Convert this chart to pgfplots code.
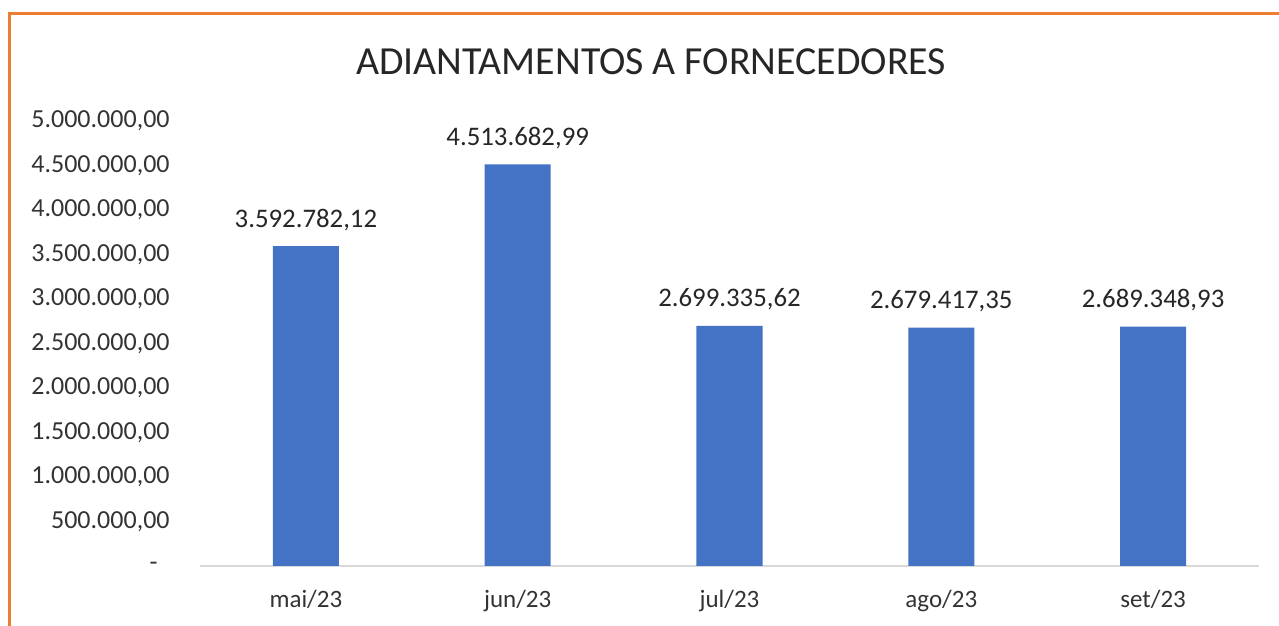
\documentclass[border=0pt]{standalone}
\usepackage{fontspec}
\setmainfont{Carlito}
\usepackage{pgfplots}
\usepackage{pgfplotstable}
\pgfplotsset{compat=1.18}
\definecolor{barblue}{HTML}{4472C4}
\definecolor{frameorange}{HTML}{ED7D31}
\definecolor{axisgrey}{HTML}{D9D9D9}

\pgfplotstableread{
x y label
0 3592782.12 3.592.782,12
1 4513682.99 4.513.682,99
2 2699335.62 2.699.335,62
3 2679417.35 2.679.417,35
4 2689348.93 2.689.348,93
}\adiant

\begin{document}
\begin{tikzpicture}
\begin{axis}[
    at={(0pt,0pt)}, anchor=south west,
    scale only axis,
    width=529.5pt, height=222.5pt,
    ybar, bar width=33pt,
    xmin=-0.5, xmax=4.5,
    ymin=0, ymax=5000000,
    scaled y ticks=false,
    axis x line*=bottom, axis y line*=left,
    x axis line style={-, draw=axisgrey, line width=1pt},
    y axis line style={draw=none},
    major tick length=0pt,
    xtick={0,1,2,3,4},
    xticklabels={mai/23, jun/23, jul/23, ago/23, set/23},
    ytick={0,500000,1000000,1500000,2000000,2500000,3000000,3500000,4000000,4500000,5000000},
    yticklabels={{-\kern6pt\null}, {500.000,00}, {1.000.000,00}, {1.500.000,00}, {2.000.000,00}, {2.500.000,00}, {3.000.000,00}, {3.500.000,00}, {4.000.000,00}, {4.500.000,00}, {5.000.000,00}},
    yticklabel style={anchor=east, inner sep=0pt, xshift=-15pt, font=\fontsize{13}{15}\selectfont, text=black!80},
    xticklabel style={anchor=base, inner sep=0pt, yshift=-20.5pt, font=\fontsize{12.5}{14}\selectfont, text=black!80},
    title={ADIANTAMENTOS A FORNECEDORES},
    title style={at={(0.426,1.106)}, anchor=center, font=\fontsize{19.9}{23}\selectfont, text=black!85},
    point meta=explicit symbolic,
    nodes near coords={\pgfplotspointmeta},
    every node near coord/.append style={anchor=base, inner sep=0pt, yshift=9.5pt, font=\fontsize{13.4}{15}\selectfont, text=black!85},
]
\addplot[fill=barblue, draw=none] table[x=x, y=y, meta=label] {\adiant};
\end{axis}
\draw[frameorange, line width=1.5pt] (-95pt,-40pt) -- (-95pt,276pt) -- (560pt,276pt);
\pgfresetboundingbox
\useasboundingbox (-100pt,-30pt) rectangle (539.5pt,283pt);
\end{tikzpicture}
\end{document}
